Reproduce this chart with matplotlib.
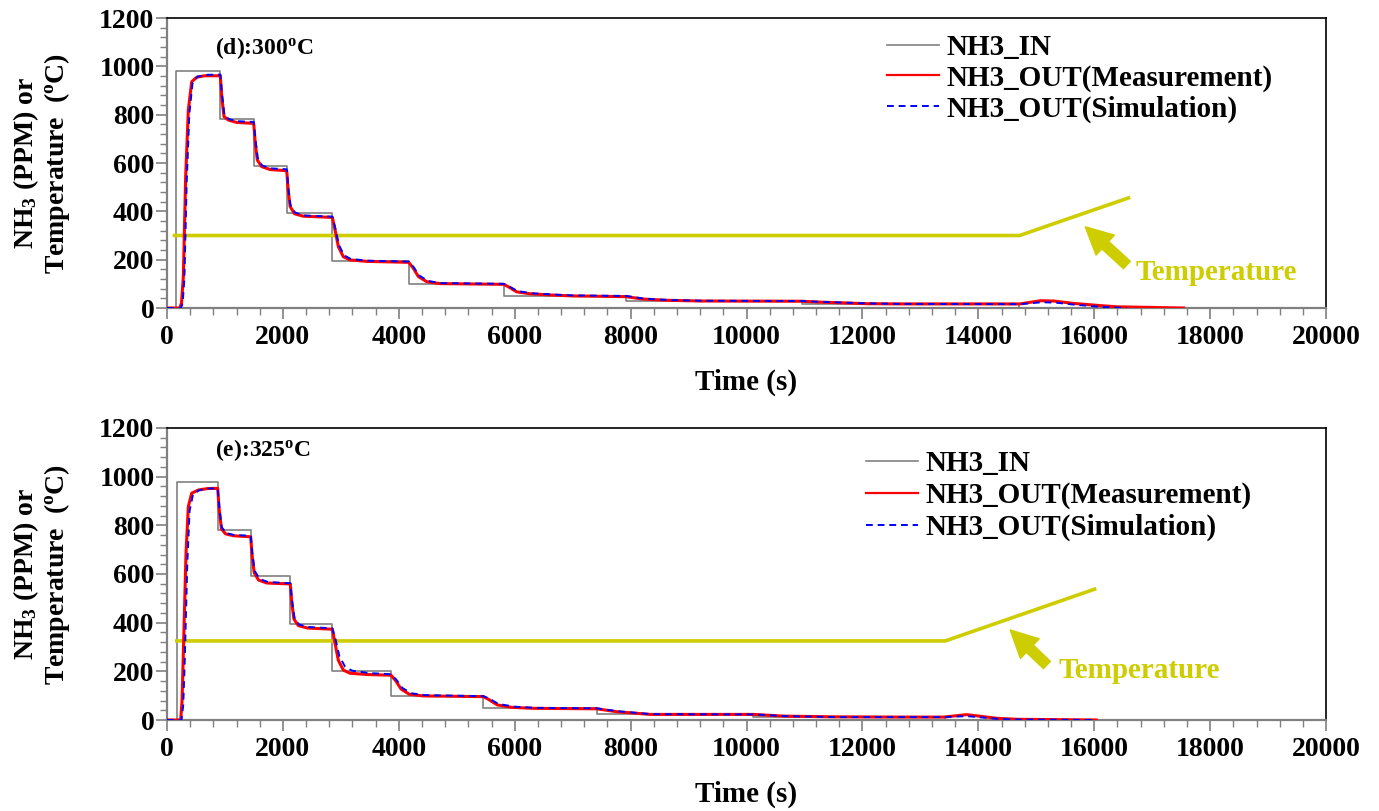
import matplotlib
matplotlib.use('Agg')
import matplotlib.pyplot as plt
from matplotlib.ticker import MultipleLocator
from matplotlib.lines import Line2D

plt.rcParams['font.family'] = ['Liberation Serif', 'DejaVu Serif']
plt.rcParams['font.weight'] = 'bold'
plt.rcParams['mathtext.fontset'] = 'custom'
plt.rcParams['mathtext.rm'] = 'Liberation Serif:bold'
plt.rcParams['mathtext.it'] = 'Liberation Serif:bold'
plt.rcParams['mathtext.bf'] = 'Liberation Serif:bold'
plt.rcParams['mathtext.default'] = 'rm'

# ---------------- Panel (d): 300 C ----------------
in_t_d = [0, 150, 920, 1496, 2066, 2853, 4171, 5811, 7922, 10953, 14700, 17540]
in_v_d = [0, 980, 783, 589, 394, 196, 100, 51, 30, 15, 0, 0]

meas_t_d = [0, 220, 250, 282, 322, 368, 426, 512, 650, 920, 944, 984, 1058, 1200, 1496,
            1524, 1559, 1634, 1778, 2066, 2090, 2125, 2200, 2350, 2853, 2900, 2957, 3043,
            3159, 3447, 4171, 4252, 4338, 4482, 4712, 5811, 5890, 6034, 6264, 6610, 7000,
            7922, 8217, 8625, 9200, 10953, 11214, 12077, 12650, 14720, 15068, 15298, 15643,
            16103, 16390, 17540]
meas_v_d = [0, 0, 20, 130, 543, 819, 936, 955, 961, 961, 875, 792, 778, 768, 764,
            681, 612, 585, 573, 568, 490, 420, 390, 380, 375, 323, 254, 212,
            199, 193, 189, 164, 130, 109, 101, 98, 88, 67, 59, 54, 50,
            47, 37, 32, 29, 28, 25, 18, 17, 17, 30, 29, 19,
            10, 5, 0]

sim_t_d = [0, 240, 270, 300, 340, 385, 440, 530, 700, 920, 950, 990, 1065, 1200, 1496,
           1530, 1565, 1640, 1780, 2066, 2095, 2130, 2210, 2360, 2853, 2905, 2965, 3055,
           3170, 3460, 4171, 4260, 4350, 4500, 4730, 5811, 5900, 6050, 6290, 6650, 7000,
           7922, 8230, 8650, 9250, 10953, 11230, 12100, 12650, 14720, 15100, 15350, 15650,
           16103, 16560]
sim_v_d = [0, 0, 20, 120, 520, 800, 930, 958, 965, 966, 885, 800, 782, 773, 770,
           690, 620, 590, 578, 574, 495, 425, 395, 383, 378, 330, 262, 218,
           203, 196, 192, 168, 135, 112, 103, 100, 90, 70, 61, 56, 52,
           50, 39, 33, 30, 29, 26, 19, 17, 16, 24, 22, 14,
           5, 0]

temp_t_d = [98, 14710, 16620]
temp_v_d = [300, 300, 458]

# ---------------- Panel (e): 325 C ----------------
in_t_e = [0, 178, 875, 1444, 2128, 2853, 3866, 5460, 7417, 10120, 13430, 16035]
in_v_e = [0, 979, 781, 590, 396, 200, 99, 51, 25, 12, 0, 0]

meas_t_e = [0, 236, 260, 282, 328, 368, 426, 541, 700, 875, 900, 940, 1010, 1150, 1444,
            1470, 1505, 1580, 1720, 2128, 2152, 2190, 2265, 2420, 2853, 2900, 2957, 3043,
            3159, 3450, 3866, 3950, 4040, 4180, 4420, 5460, 5540, 5700, 5950, 6323, 7417,
            7762, 8337, 10120, 10640, 11500, 12650, 13400, 13800, 14320, 14665, 16035]
meas_v_e = [0, 0, 80, 274, 685, 877, 932, 945, 951, 952, 865, 785, 765, 757, 753,
            672, 605, 575, 563, 559, 485, 415, 388, 378, 373, 315, 245, 205,
            192, 187, 184, 160, 127, 106, 99, 96, 86, 62, 52, 48, 46,
            34, 23, 23, 16, 13, 12, 12, 22, 7, 3, 0]

sim_t_e = [0, 250, 280, 305, 350, 390, 450, 560, 720, 875, 905, 945, 1020, 1160, 1444,
           1475, 1515, 1595, 1740, 2128, 2158, 2200, 2280, 2440, 2853, 2910, 2975, 3070,
           3190, 3480, 3866, 3960, 4060, 4210, 4460, 5460, 5550, 5720, 5980, 6350, 7417,
           7780, 8360, 10120, 10660, 11520, 12650, 13400, 13800, 14320, 14665, 16035]
sim_v_e = [0, 0, 60, 230, 640, 860, 928, 945, 951, 952, 870, 792, 768, 760, 757,
           680, 612, 580, 567, 562, 490, 420, 392, 382, 377, 330, 262, 220,
           203, 193, 188, 165, 132, 110, 102, 98, 89, 66, 55, 50, 48,
           36, 24, 23, 16, 12, 12, 12, 16, 5, 2, 0]

temp_t_e = [138, 13430, 16035]
temp_v_e = [325, 325, 540]

labels = ['NH3_IN', 'NH3_OUT(Measurement)', 'NH3_OUT(Simulation)']
panel_titles = ['(d):300$^o$C', '(e):325$^o$C']
ylabel_text = 'NH$_3$ (PPM) or\nTemperature  ($^o$C)'
xlabel_text = 'Time (s)'
temp_label = 'Temperature'

GRAY = '#808080'
RED = '#FF0000'
BLUE = '#0000FF'
YEL = '#CDCD00'

fig = plt.figure(figsize=(13.79, 8.11), dpi=100)
ax1 = fig.add_axes([0.1211, 0.6202, 0.8405, 0.3576])
ax2 = fig.add_axes([0.1211, 0.1122, 0.8405, 0.3601])


def draw(ax, in_t, in_v, mt, mv, st, sv, tt, tv, title, title_y, leg_xy, leg_sp,
         arrow_head, arrow_tail, text_xy):
    ax.plot(in_t, in_v, drawstyle='steps-post', color=GRAY, lw=1.2, zorder=2)
    ax.plot(tt, tv, color=YEL, lw=2.6, zorder=3, solid_capstyle='butt')
    ax.plot(mt, mv, color=RED, lw=2.2, zorder=4)
    ax.plot(st, sv, color=BLUE, lw=1.4, ls=(0, (3.5, 2.5)), zorder=5)
    ax.set_xlim(0, 20000)
    ax.set_ylim(0, 1200)
    ax.xaxis.set_major_locator(MultipleLocator(2000))
    ax.xaxis.set_minor_locator(MultipleLocator(400))
    ax.yaxis.set_major_locator(MultipleLocator(200))
    ax.yaxis.set_minor_locator(MultipleLocator(40))
    ax.tick_params(which='major', direction='out', length=8, width=1.2, color=GRAY,
                   labelsize=20)
    ax.tick_params(axis='x', which='major', pad=4)
    ax.tick_params(axis='y', which='major', pad=1)
    ax.tick_params(which='minor', direction='out', length=5, width=1.0, color=GRAY)
    for s in ['left', 'bottom']:
        ax.spines[s].set_color(GRAY)
        ax.spines[s].set_linewidth(1.6)
    for s in ['top', 'right']:
        ax.spines[s].set_color('black')
        ax.spines[s].set_linewidth(1.2)
    for lab in ax.get_xticklabels() + ax.get_yticklabels():
        lab.set_fontweight('bold')
    ax.set_xlabel(xlabel_text, fontsize=21, fontweight='bold', labelpad=14)
    ax.set_ylabel(ylabel_text, fontsize=20, fontweight='bold', linespacing=1.05)
    ax.yaxis.set_label_coords(-0.082, 0.5)
    ax.text(0.041, title_y, title, transform=ax.transAxes, fontsize=17,
            fontweight='bold', ha='left', va='center')
    handles = [Line2D([], [], color=GRAY, lw=1.2),
               Line2D([], [], color=RED, lw=1.6),
               Line2D([], [], color=BLUE, lw=1.4, ls=(0, (3.5, 2.5)))]
    ax.legend(handles, labels, loc='upper left', bbox_to_anchor=leg_xy, frameon=False,
              handlelength=1.8, handletextpad=0.25, labelspacing=leg_sp, borderpad=0,
              borderaxespad=0, prop=dict(size=21, weight='bold'))
    ax.annotate('', xy=arrow_head, xytext=arrow_tail,
                arrowprops=dict(arrowstyle='simple,head_length=0.75,head_width=0.75,tail_width=0.28',
                                color=YEL, mutation_scale=26, shrinkA=0, shrinkB=0), zorder=6)
    ax.text(text_xy[0], text_xy[1], temp_label, color=YEL, fontsize=21,
            fontweight='bold', ha='left', va='center')


draw(ax1, in_t_d, in_v_d, meas_t_d, meas_v_d, sim_t_d, sim_v_d, temp_t_d, temp_v_d,
     panel_titles[0], 0.898, (0.621, 0.945), 0.12, (15845, 336), (16564, 178), (16707, 149))
draw(ax2, in_t_e, in_v_e, meas_t_e, meas_v_e, sim_t_e, sim_v_e, temp_t_e, temp_v_e,
     panel_titles[1], 0.925, (0.603, 0.925), 0.17, (14550, 370), (15184, 226), (15380, 205))

fig.savefig('out.png', dpi=100)
